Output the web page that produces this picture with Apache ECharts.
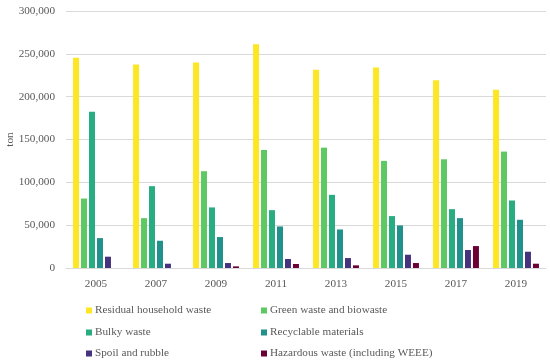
<!DOCTYPE html>
<html><head><meta charset="utf-8">
<script src="https://cdn.jsdelivr.net/npm/echarts@6/dist/echarts.min.js"></script>
<style>html,body{margin:0;padding:0;background:#fff}#c{width:550px;height:362px}</style>
</head><body><div id="c"></div>
<script>
const years = ['2005','2007','2009','2011','2013','2015','2017','2019'];
const seriesNames = ['Residual household waste','Green waste and biowaste','Bulky waste','Recyclable materials','Spoil and rubble','Hazardous waste (including WEEE)'];
const residual   = [245300,237600,239900,261300,231400,234100,219300,208100];
const green      = [81100,58200,113000,137800,140500,125000,126900,135900];
const bulky      = [182500,95500,70700,67500,85400,60600,68700,78800];
const recyclable = [34900,31800,36100,48500,45000,49700,58200,56300];
const spoil      = [13200,5000,5800,10500,11600,15500,21000,19000];
const hazardous  = [0,0,1900,4700,3100,5800,25600,5000];
const yTicks = [0,50000,100000,150000,200000,250000,300000];
const colors = ['#FDE725','#5EC962','#27AD81','#21918C','#46337E','#6B0035'];
const values = [residual,green,bulky,recyclable,spoil,hazardous];
const font = 'Liberation Serif';
const fs = 11.2;
const chart = echarts.init(document.getElementById('c'));
const legendPos = [[86,305],[261,305],[86,327],[261,327],[86,348],[261,348]];
const legends = seriesNames.map((n,i)=>({data:[n], left:legendPos[i][0], top:legendPos[i][1],
  itemWidth:6, itemHeight:6, icon:'rect', padding:0,
  textStyle:{fontFamily:font,fontSize:fs,color:'#595959',padding:[0,0,0,-2]}}));
chart.setOption({
  animation:false,
  color:colors,
  grid:{left:66,right:4,top:11,bottom:94,containLabel:false,outerBoundsMode:'none'},
  legend:legends,
  xAxis:{type:'category',data:years,
    axisLine:{lineStyle:{color:'#D9D9D9'}},axisTick:{show:false},
    axisLabel:{fontFamily:font,fontSize:fs,color:'#595959',margin:11}},
  yAxis:{type:'value',min:yTicks[0],max:yTicks[yTicks.length-1],interval:50000,
    name:'ton',nameLocation:'middle',nameGap:50,nameRotate:90,nameMoveOverlap:false,
    nameTextStyle:{fontFamily:font,fontSize:fs,color:'#595959'},
    splitLine:{lineStyle:{color:'#D9D9D9'}},
    axisLabel:{fontFamily:font,fontSize:fs,color:'#595959',margin:11,
      formatter:v=>v.toLocaleString('en-US')}},
  series:seriesNames.map((n,i)=>({name:n,type:'bar',data:values[i],barWidth:6,barGap:'33%'}))
});
</script></body></html>
